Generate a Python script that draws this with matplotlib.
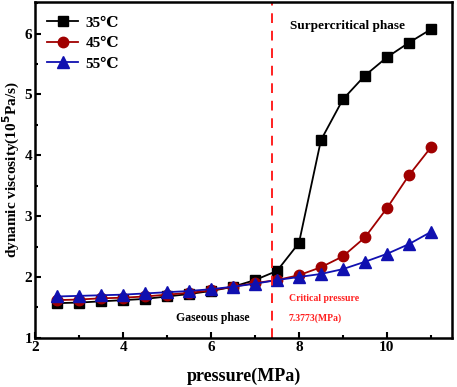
import matplotlib
matplotlib.use("Agg")
import matplotlib.pyplot as plt
from matplotlib.ticker import MultipleLocator

plt.rcParams["font.family"] = ["Liberation Serif", "DejaVu Serif"]
plt.rcParams["font.weight"] = "bold"

# ── data ──────────────────────────────────────────────────────────────────────
pressure = [2.5, 3.0, 3.5, 4.0, 4.5, 5.0, 5.5, 6.0, 6.5, 7.0,
            7.5, 8.0, 8.5, 9.0, 9.5, 10.0, 10.5, 11.0]
visc_35 = [1.57, 1.58, 1.60, 1.62, 1.64, 1.68, 1.72, 1.77, 1.84, 1.95,
           2.10, 2.56, 4.25, 4.92, 5.31, 5.61, 5.85, 6.07]
visc_45 = [1.62, 1.63, 1.65, 1.66, 1.68, 1.71, 1.74, 1.78, 1.84, 1.90,
           1.95, 2.03, 2.16, 2.34, 2.65, 3.13, 3.67, 4.13]
visc_55 = [1.68, 1.69, 1.70, 1.71, 1.73, 1.75, 1.77, 1.80, 1.84, 1.89,
           1.95, 2.00, 2.05, 2.13, 2.25, 2.38, 2.54, 2.74]
labels = ["35℃", "45℃", "55℃"]
critical_p = 7.3773

fig = plt.figure(figsize=(4.57, 3.87), dpi=100)
ax = fig.add_axes([0.077, 0.127, 0.912, 0.868])

ax.plot(pressure, visc_35, "-s", color="black", mfc="black", mec="black",
        ms=7, lw=1.3, label=labels[0])
ax.plot(pressure, visc_45, "-o", color="#a00000", mfc="#a00000", mec="#a00000",
        ms=7.5, lw=1.3, label=labels[1])
ax.plot(pressure, visc_55, "-^", color="#1010b0", mfc="#1010b0", mec="#1010b0",
        ms=8, lw=1.3, label=labels[2])

ax.axvline(critical_p, color="#ff2020", ls=(0, (5, 4)), lw=1.4)

ax.text(7.8, 6.13, "Surpercritical phase", fontsize=9.5, fontweight="bold",
        ha="left", va="center")
ax.text(6.03, 1.33, "Gaseous phase", fontsize=8.5, fontweight="bold",
        ha="center", va="center")
ax.text(7.77, 1.64, "Critical pressure", fontsize=7, fontweight="bold",
        ha="left", va="center", color="#ff2020")
ax.text(7.77, 1.33, "7.3773(MPa)", fontsize=7, fontweight="bold",
        ha="left", va="center", color="#ff2020")

ax.set_xlim(2, 11.48)
ax.set_ylim(1, 6.52)
ax.xaxis.set_major_locator(MultipleLocator(2))
ax.xaxis.set_minor_locator(MultipleLocator(1))
ax.yaxis.set_major_locator(MultipleLocator(1))
ax.yaxis.set_minor_locator(MultipleLocator(0.5))
ax.tick_params(which="both", direction="in", width=1.5)
ax.tick_params(which="major", length=4, labelsize=11, pad=2)
ax.tick_params(which="minor", length=2.5)
for s in ax.spines.values():
    s.set_linewidth(1.8)

ax.set_xlabel("pressure(MPa)", fontsize=13, fontweight="bold", labelpad=10)
ax.set_ylabel("dynamic viscosity(10$^\\mathbf{5}$Pa/s)", fontsize=11,
              fontweight="bold", labelpad=2)

ax.legend(loc="upper left", frameon=False, fontsize=11, handlelength=2.0,
          handletextpad=0.5, borderaxespad=0.4, labelspacing=0.45,
          bbox_to_anchor=(0.0, 0.995))

fig.savefig("out.png", dpi=100)
